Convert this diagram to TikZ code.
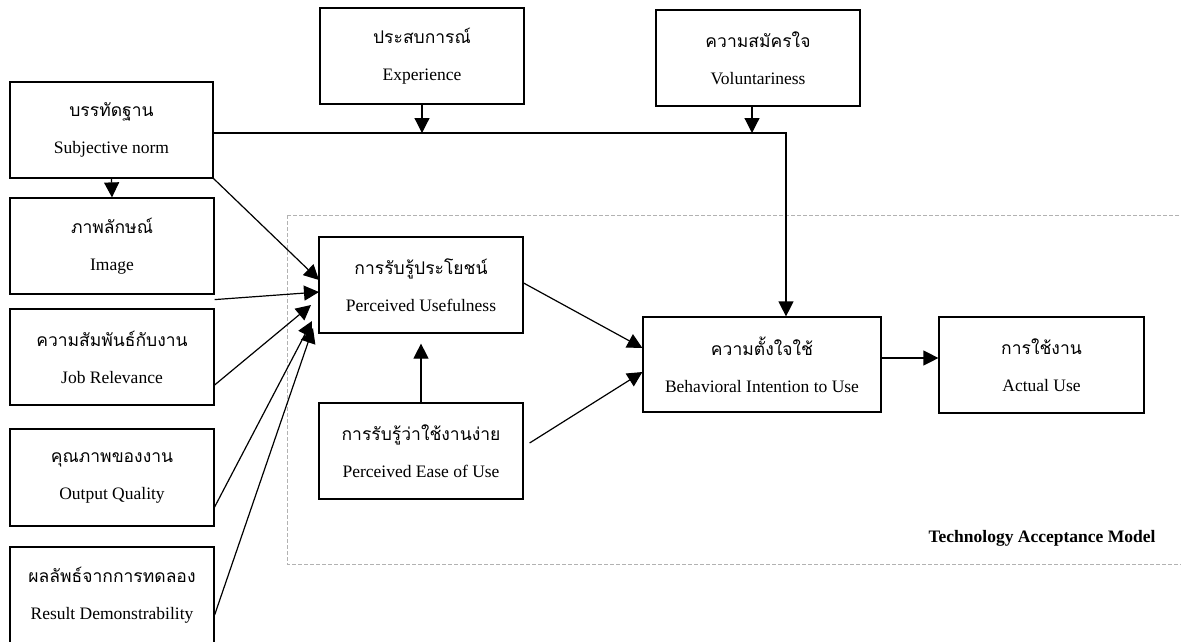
\documentclass[tikz,border=0pt]{standalone}
\usepackage{fontspec}
\setmainfont{Liberation Serif}
\newfontfamily\thaifont[Script=Thai]{Loma}
\usetikzlibrary{arrows.meta}
\tikzset{
  box/.style={draw, line width=1.2pt, minimum width=204pt, minimum height=96pt,
    inner sep=0pt, align=center, font=\fontsize{17.5}{37}\selectfont},
  arr/.style={line width=1.2pt, -{Triangle[length=15pt,width=15pt]}}
}
\newcommand{\tb}[2]{{\thaifont\fontsize{17.5}{37}\selectfont #1}\\#2}
\begin{document}
\begin{tikzpicture}[x=1pt,y=-1pt]
\useasboundingbox (0,0) rectangle (1181,641);
\clip (0,0) rectangle (1181,641);
\fill[white] (0,0) rectangle (1181,641);
% dashed TAM frame
\draw[gray!60, line width=1pt, dash pattern=on 4pt off 2pt] (287,215) rectangle (1200,564);
\node[font=\fontsize{17.5}{19}\selectfont\bfseries] (tam) at (1042,538) {Technology Acceptance Model};
% boxes
\node[box, minimum width=203pt] (SN) at (111.5,130) {\tb{บรรทัดฐาน}{Subjective norm}};
\node[box] (IMG) at (112,246) {\tb{ภาพลักษณ์}{Image}};
\node[box] (JOB) at (112,357) {\tb{ความสัมพันธ์กับงาน}{Job Relevance}};
\node[box, minimum height=97pt] (OUT) at (112,477.5) {\tb{คุณภาพของงาน}{Output Quality}};
\node[box] (RES) at (112,595) {\tb{ผลลัพธ์จากการทดลอง}{Result Demonstrability}};
\node[box] (EXP) at (422,56) {\tb{ประสบการณ์}{Experience}};
\node[box] (VOL) at (758,58) {\tb{ความสมัครใจ}{Voluntariness}};
\node[box] (PU) at (421,285) {\tb{การรับรู้ประโยชน์}{Perceived Usefulness}};
\node[box] (PEOU) at (421,451) {\tb{การรับรู้ว่าใช้งานง่าย}{Perceived Ease of Use}};
\node[box, minimum width=238pt, minimum height=95pt] (BI) at (762,364.5) {\tb{ความตั้งใจใช้}{Behavioral Intention to Use}};
\node[box, minimum width=205pt] (AU) at (1041.5,365) {\tb{การใช้งาน}{Actual Use}};
% coordinates
\coordinate (j1) at (786,133);
\coordinate (t1) at (319,280);
\coordinate (t2) at (319,292);
\coordinate (t3) at (311,305);
\coordinate (t4) at (312,321);
\coordinate (t5) at (313,328);
% connectors
\draw[arr] (SN.south) -- (IMG.north);
\draw[arr] (EXP.south) -- (EXP.south |- j1);
\draw[arr] ([xshift=-6pt]VOL.south) -- ([xshift=-6pt]VOL.south |- j1);
\draw[arr] ([yshift=-3pt]SN.east) -- (j1) -- (j1 |- BI.north);
\draw[arr] (SN.south east) -- (t1);
\draw[arr] ([yshift=-5pt]IMG.south east) -- (t2);
\draw[arr] ([yshift=-28pt]JOB.east) -- (t3);
\draw[arr] ([yshift=-29.5pt]OUT.east) -- (t4);
\draw[arr] ([yshift=-20pt]RES.east) -- (t5);
\draw[arr] ([yshift=2pt]PU.east) -- ([yshift=16.5pt]BI.west);
\draw[arr] ([xshift=6pt,yshift=8pt]PEOU.east) -- ([yshift=-7.5pt]BI.west);
\draw[arr] (PEOU.north) -- ([yshift=-10pt]PU.south);
\draw[arr] ([yshift=6.5pt]BI.east) -- ([yshift=7pt]AU.west);
\end{tikzpicture}
\end{document}
